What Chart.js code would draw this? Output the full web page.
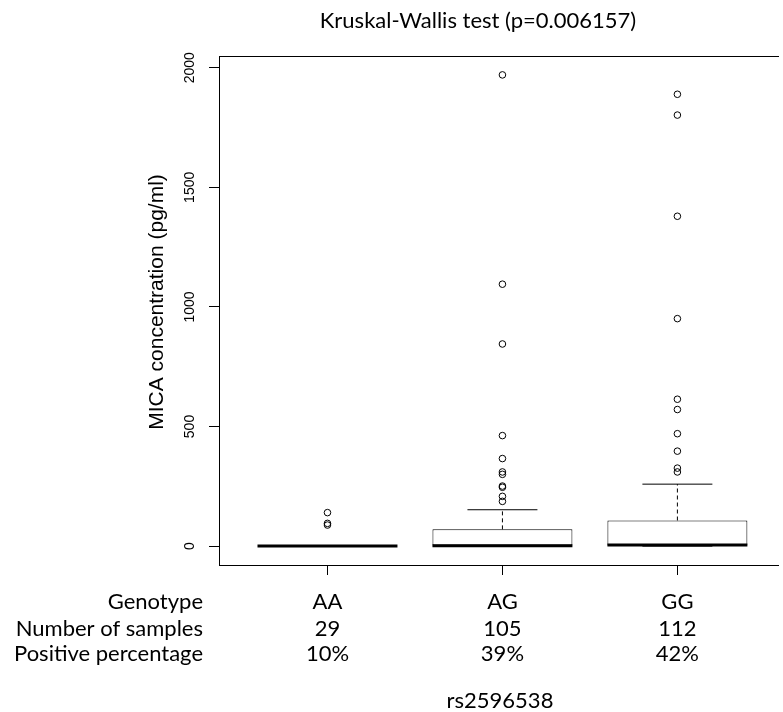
<!DOCTYPE html>
<html>
<head>
<meta charset="utf-8">
<script src="https://cdn.jsdelivr.net/npm/chart.js@4/dist/chart.umd.min.js"></script>
<style>
  html, body { margin: 0; padding: 0; background: #fff; }
  canvas { display: block; }
</style>
</head>
<body>
<canvas id="canvas1" width="783" height="712"></canvas>
<script>
// rs2596538 genotype groups
var categories = ['AA', 'AG', 'GG'];
var sampleCounts = ['29', '105', '112'];
var positivePct = ['10%', '39%', '42%'];

// box statistics (pg/ml)
var q1 = [0, 0, 0];
var medians = [0, 2, 5];
var q3 = [0, 70, 107];
var whiskerLow = [0, 0, 0];
var whiskerHigh = [0, 152, 259];

// points beyond the whiskers
var outliersAA = [140, 95, 88];
var outliersAG = [1970, 1095, 845, 462, 366, 310, 300, 251, 246, 208, 187];
var outliersGG = [1889, 1802, 1379, 951, 614, 571, 470, 397, 326, 310];
var outliers = [outliersAA, outliersAG, outliersGG];

var yTicks = [0, 500, 1000, 1500, 2000];
var rowLabels = ['Genotype', 'Number of samples', 'Positive percentage'];
var titleText = 'Kruskal-Wallis test (p=0.006157)';
var yTitle = 'MICA concentration (pg/ml)';
var xTitle = 'rs2596538';

var boxHalf = 0.4, capHalf = 0.2;

// build datasets from the arrays
var boxData = categories.map(function (c, i) { return {x: i + 1, y: [q1[i], q3[i]]}; });
function segments(list) {
    var out = [];
    list.forEach(function (s) {
        out.push({x: s[0], y: s[1]}, {x: s[2], y: s[3]}, {x: s[2], y: null});
    });
    return out;
}
var medianSegs = segments(categories.map(function (c, i) {
    return [i + 1 - boxHalf, medians[i], i + 1 + boxHalf, medians[i]];
}));
var whiskerSegs = segments(categories.map(function (c, i) {
    return [i + 1, q3[i], i + 1, whiskerHigh[i]];
}).concat(categories.map(function (c, i) {
    return [i + 1, q1[i], i + 1, whiskerLow[i]];
})));
var capSegs = segments(categories.map(function (c, i) {
    return [i + 1 - capHalf, whiskerHigh[i], i + 1 + capHalf, whiskerHigh[i]];
}).concat(categories.map(function (c, i) {
    return [i + 1 - capHalf, whiskerLow[i], i + 1 + capHalf, whiskerLow[i]];
})));
var outlierPts = [];
outliers.forEach(function (list, i) {
    list.forEach(function (v) { outlierPts.push({x: i + 1, y: v}); });
});

var textPlugin = {
    id: 'texts',
    afterDraw: function (chart) {
        var ctx = chart.ctx;
        var xs = chart.scales.x;
        ctx.save();
        ctx.fillStyle = '#000';
        ctx.font = '22px Lato';
        ctx.textAlign = 'center';
        ctx.textBaseline = 'alphabetic';
        ctx.fillText(titleText, 478, 28);

        var rows = [categories, sampleCounts, positivePct];
        var baselines = [609, 636, 661];
        ctx.font = '22px Lato';
        rows.forEach(function (row, r) {
            ctx.textAlign = 'right';
            ctx.fillText(rowLabels[r], 203, baselines[r]);
            ctx.textAlign = 'center';
            row.forEach(function (t, i) {
                ctx.fillText(t, xs.getPixelForValue(i + 1), baselines[r]);
            });
        });
        ctx.fillText(xTitle, 500, 708);

        // y axis title, rotated
        ctx.translate(157, 302);
        ctx.rotate(-Math.PI / 2);
        ctx.font = '21px "Liberation Sans"';
        ctx.textBaseline = 'middle';
        ctx.fillText(yTitle, 0, 0);
        ctx.restore();
    }
};

Chart.defaults.font.family = '"Liberation Sans", Arial, sans-serif';
Chart.defaults.color = '#000';

new Chart(document.getElementById('canvas1'), {
    type: 'bar',
    data: {
        datasets: [{
            type: 'bar',
            data: boxData,
            backgroundColor: '#fff',
            borderColor: '#000',
            borderWidth: 1,
            borderSkipped: false,
            categoryPercentage: 1,
            barPercentage: 0.8,
            order: 4
        }, {
            type: 'line',
            data: whiskerSegs,
            borderColor: '#000',
            borderWidth: 1,
            borderDash: [4, 3],
            pointRadius: 0,
            spanGaps: false,
            fill: false,
            order: 3
        }, {
            type: 'line',
            data: capSegs,
            borderColor: '#000',
            borderWidth: 1,
            pointRadius: 0,
            spanGaps: false,
            fill: false,
            order: 2
        }, {
            type: 'line',
            data: medianSegs,
            borderColor: '#000',
            borderWidth: 3,
            borderCapStyle: 'butt',
            pointRadius: 0,
            spanGaps: false,
            fill: false,
            order: 1
        }, {
            type: 'scatter',
            data: outlierPts,
            pointRadius: 3.3,
            pointBackgroundColor: 'rgba(0,0,0,0)',
            pointBorderColor: '#000',
            pointBorderWidth: 1,
            order: 0
        }]
    },
    options: {
        responsive: false,
        animation: false,
        events: [],
        layout: { padding: { top: 56, left: 140, right: 0, bottom: 137 } },
        plugins: { legend: { display: false }, tooltip: { enabled: false } },
        scales: {
            x: {
                type: 'linear',
                position: 'bottom',
                min: 0.38,
                max: 3.575,
                offset: false,
                afterBuildTicks: function (s) {
                    s.ticks = categories.map(function (c, i) { return {value: i + 1}; });
                },
                afterFit: function (s) { s.height = 10; },
                grid: { offset: false, drawOnChartArea: false, drawTicks: true, tickLength: 10, color: '#000', lineWidth: 1 },
                border: { display: true, color: '#000', width: 1 },
                ticks: { display: false }
            },
            xTop: {
                type: 'linear',
                position: 'top',
                min: 0.38,
                max: 3.575,
                afterFit: function (s) { s.height = 0; },
                grid: { display: false, drawTicks: false },
                border: { display: true, color: '#000', width: 1 },
                ticks: { display: false }
            },
            y: {
                type: 'linear',
                min: -79,
                max: 2049,
                afterBuildTicks: function (s) {
                    s.ticks = yTicks.map(function (v) { return {value: v}; });
                },
                afterFit: function (s) { s.width = 79; },
                grid: { drawOnChartArea: false, drawTicks: true, tickLength: 10, color: '#000', lineWidth: 1 },
                border: { display: true, color: '#000', width: 1 },
                ticks: {
                    autoSkip: false,
                    minRotation: 90,
                    maxRotation: 90,
                    crossAlign: 'center',
                    padding: 3,
                    font: { size: 14 },
                    color: '#000',
                    callback: function (v) { return String(v); }
                }
            }
        }
    },
    plugins: [textPlugin]
});
</script>
</body>
</html>
